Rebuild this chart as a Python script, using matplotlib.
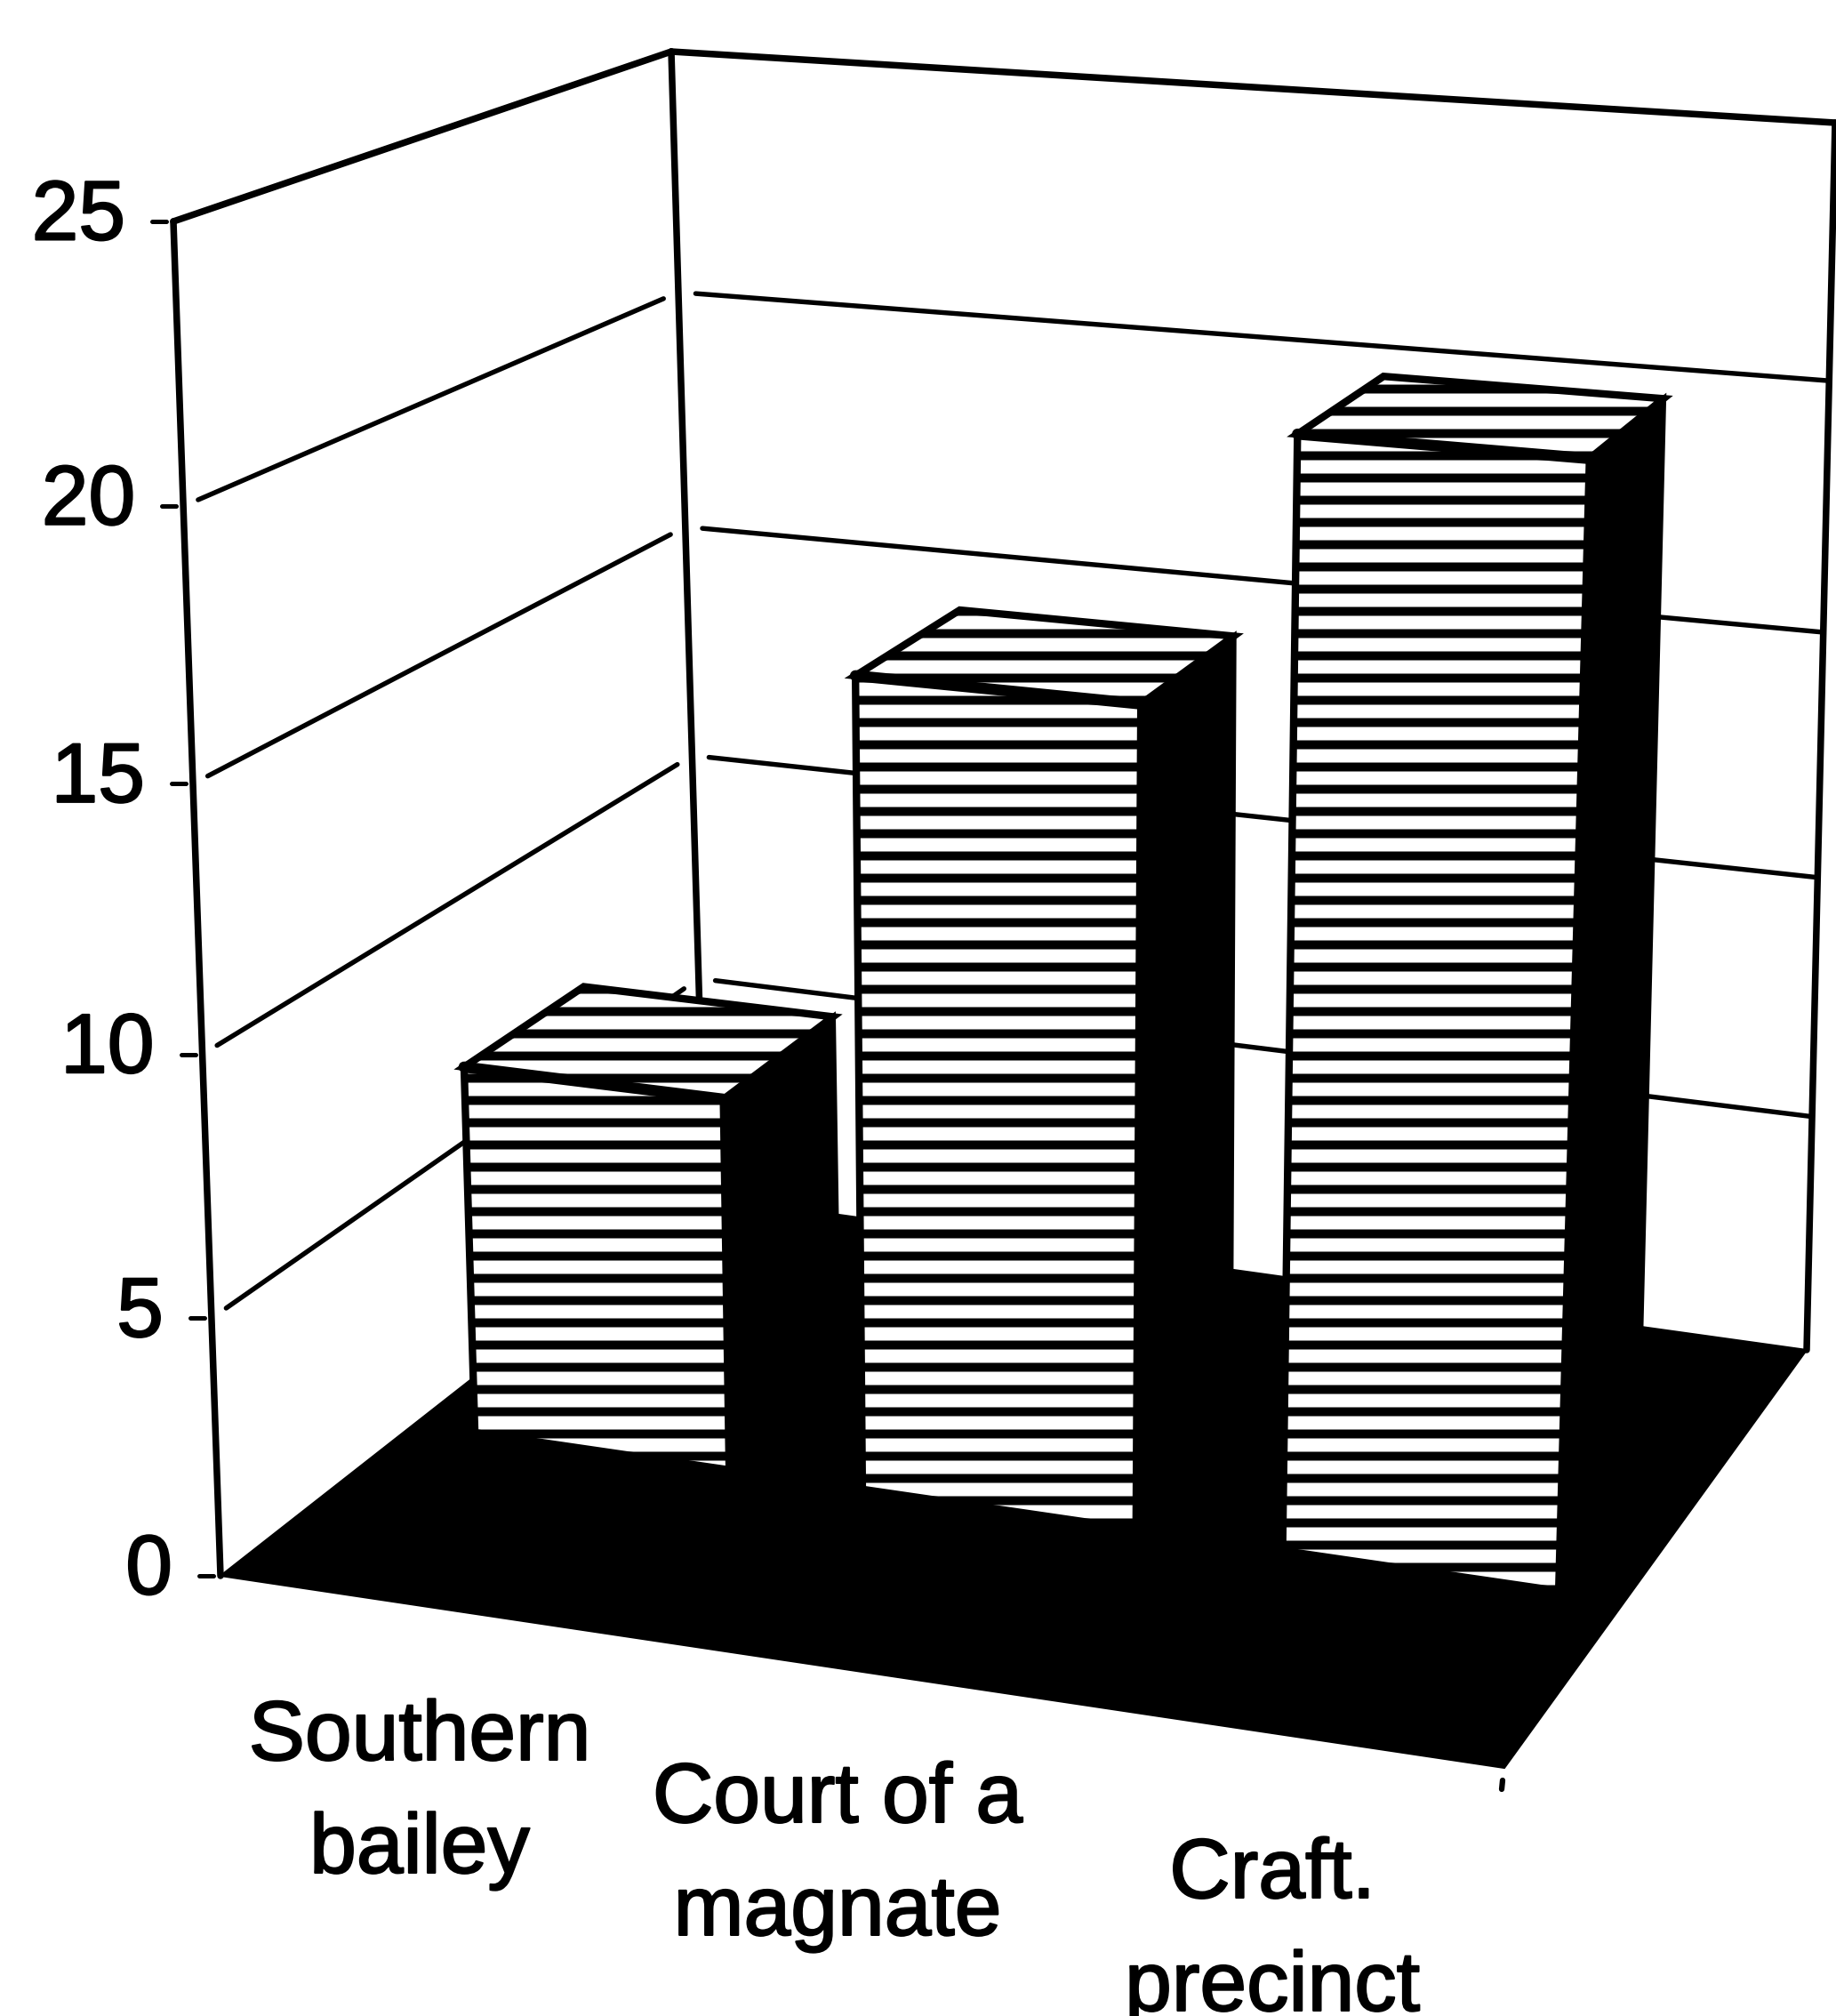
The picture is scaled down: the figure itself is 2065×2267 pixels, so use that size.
"""Scanned Excel-style 3D bar chart, redrawn on a flat axes with a small projection helper."""
import matplotlib
matplotlib.use("Agg")
import matplotlib.patheffects as pe
import matplotlib.pyplot as plt
import numpy as np
from matplotlib.patches import Polygon

# data
categories = ["Southern\nbailey", "Court of a\nmagnate", "Craft.\nprecinct"]
values = [7.5, 16.0, 21.2]
y_ticks = [0, 5, 10, 15, 20, 25]

# layout: box corners in pixels, bar extents in box units
W, H = 2065, 2267
VMAX = 25
PERSP = 0.065  # value steps get a little larger towards the top of the box
FLB, FLT = np.array([248, 1772]), np.array([195, 249])
BLB, BLT = np.array([793, 1345]), np.array([755, 58])
BRB, BRT = np.array([2032, 1518]), np.array([2064, 138])
FRB, FRT = np.array([1692, 1988]), np.array([1748, 372])
BAR_U = [(0.05, 0.26), (0.37, 0.596), (0.717, 0.945)]
BAR_W = (0.40, 0.65)
LABEL_XY = [(472, 1910), (942, 1980), (1431, 2065)]
TEXT_SIZE = 45.5

plt.rcParams["font.family"] = ["Liberation Sans", "DejaVu Sans"]
plt.rcParams["hatch.linewidth"] = 4.8
HEAVY = [pe.withStroke(linewidth=1.0, foreground="black")]


def proj(u, v, w):
    # position inside the chart box: u along categories, v value, w depth
    t = v / VMAX
    t = t / (1 + PERSP * (1 - t))
    bot = (1 - u) * (1 - w) * FLB + u * (1 - w) * FRB + (1 - u) * w * BLB + u * w * BRB
    top = (1 - u) * (1 - w) * FLT + u * (1 - w) * FRT + (1 - u) * w * BLT + u * w * BRT
    return (1 - t) * bot + t * top


def line(ax, a, b, lw, z=2):
    ax.plot([a[0], b[0]], [a[1], b[1]], color="black", lw=lw, zorder=z, solid_capstyle="round")


fig = plt.figure(figsize=(W / 150, H / 150), dpi=150)
ax = fig.add_axes([0, 0, 1, 1])
ax.set_xlim(0, W)
ax.set_ylim(H, 0)
ax.axis("off")

# walls
for a, b in [(FLB, FLT), (FLT, BLT), (BLT, BLB), (BLT, BRT), (BRT, BRB)]:
    line(ax, a, b, 3.6)

# gridlines, with the small gaps the scan shows at the wall corners
for v in y_ticks[1:-1]:
    line(ax, proj(0, v, 0.03), proj(0, v, 0.97), 2.6)
    line(ax, proj(0.015, v, 1), proj(1, v, 1), 2.6)

# floor
ax.add_patch(Polygon([FLB, FRB, BRB, BLB], closed=True, fc="black", ec="black", lw=1, zorder=3))

# value ticks and labels
for v in y_ticks:
    p = proj(0, v, 0)
    line(ax, p - [24, 0], p - [8, 0], 2.4)
    ax.text(p[0] - 54, p[1] - 4, str(v), ha="right", va="center", fontsize=TEXT_SIZE,
            color="black", path_effects=HEAVY)

# corner tick under the floor
line(ax, FRB + [-2, 14], FRB + [-3, 24], 3)

# bars, left to right so nearer fronts cover the neighbouring side
for i, (val, (u0, u1)) in enumerate(zip(values, BAR_U)):
    w0, w1 = BAR_W
    z = 4 + i
    side = [proj(u1, 0, w0), proj(u1, val, w0), proj(u1, val, w1), proj(u1, 0, w1)]
    ax.add_patch(Polygon(side, closed=True, fc="black", ec="black", lw=3, zorder=z))
    top = [proj(u0, val, w0), proj(u1, val, w0), proj(u1, val, w1), proj(u0, val, w1)]
    ax.add_patch(Polygon(top, closed=True, fc="white", ec="black", lw=4, hatch="-", zorder=z))
    front = [proj(u0, 0, w0), proj(u1, 0, w0), proj(u1, val, w0), proj(u0, val, w0)]
    ax.add_patch(Polygon(front, closed=True, fc="white", ec="black", lw=4, hatch="-", zorder=z))
    line(ax, front[2], front[3], 6, z=z)

# category labels
for (x, y), name in zip(LABEL_XY, categories):
    ax.text(x, y, name, ha="center", va="top", fontsize=TEXT_SIZE, linespacing=1.55,
            color="black", path_effects=HEAVY)

fig.savefig("out.png", dpi=150)
